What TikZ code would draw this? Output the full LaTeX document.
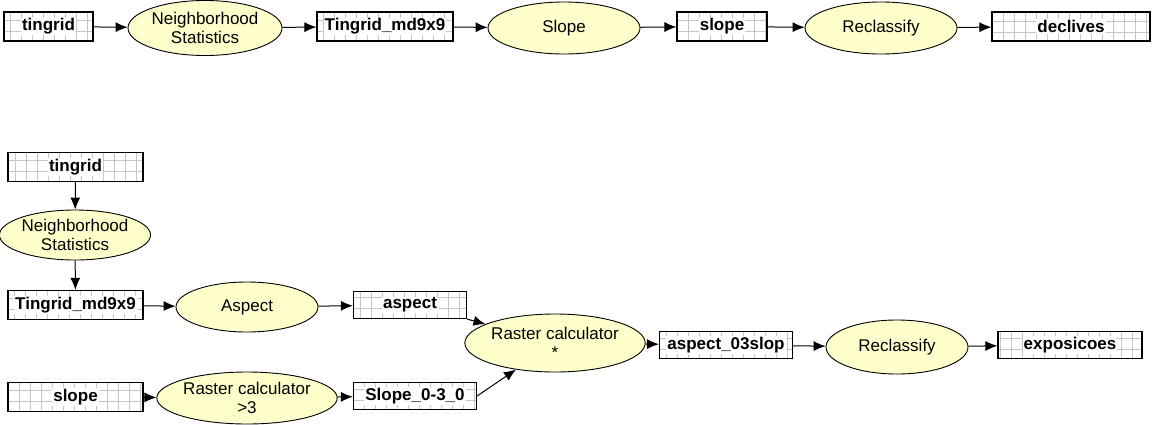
\documentclass[tikz,border=0pt]{standalone}
\usepackage{fontspec}
\setmainfont{Liberation Sans}
\usetikzlibrary{shapes.geometric,arrows.meta}
\definecolor{toolfill}{RGB}{255,255,204}
\newcommand{\lyr}[1]{{\setlength{\fboxsep}{1pt}\colorbox{white}{#1}}}

\begin{document}
\begin{tikzpicture}[x=1pt,y=1pt,
        tool/.style={ellipse,draw,line width=0.9pt,fill=toolfill,inner sep=0pt,align=center,
            font=\fontsize{17}{19}\selectfont},
        layer/.style={rectangle,draw,line width=1.2pt,inner sep=0pt,minimum height=29pt,
            font=\fontsize{17}{19}\selectfont\bfseries,
            path picture={\draw[gray!45,line width=0.6pt,step=11pt]
                (path picture bounding box.south west) grid (path picture bounding box.north east);}},
        flow/.style={-{Latex[length=12pt,width=10pt]},line width=1pt}]
    \useasboundingbox (0,0) rectangle (1161,-424);

    % Top row
    \node[layer,minimum width=89pt] (t0) at (48.5,-26.5) {\lyr{tingrid}};
    \node[tool,minimum width=154pt,minimum height=55pt] (n0) at (205,-28) {Neighborhood\\Statistics};
    \node[layer,minimum width=136pt] (m0) at (385,-26.5) {\lyr{Tingrid\_md9x9}};
    \node[tool,minimum width=152pt,minimum height=52pt] (s0) at (564,-28) {Slope};
    \node[layer,minimum width=90pt] (sl0) at (722,-26.5) {\lyr{slope}};
    \node[tool,minimum width=152pt,minimum height=52pt] (r0) at (881,-28) {Reclassify};
    \node[layer,minimum width=158pt] (d0) at (1071,-26.5) {\lyr{declives}};

    % Bottom: left column
    \node[layer,minimum width=135pt] (t1) at (75.5,-167) {\lyr{tingrid}};
    \node[tool,minimum width=142pt,minimum height=50pt] (n1) at (75,-235) {Neighborhood\\Statistics};
    \node[layer,minimum width=135pt] (m1) at (75.5,-305) {\lyr{Tingrid\_md9x9}};
    \node[layer,minimum width=135pt] (sl1) at (75.5,-397) {\lyr{slope}};

    % Bottom: aspect and slope branches
    \node[tool,minimum width=142pt,minimum height=50pt] (a1) at (247,-307) {Aspect};
    \node[layer,minimum width=113pt,minimum height=27pt] (as1) at (410,-305) {\lyr{aspect}};
    \node[tool,minimum width=140pt,minimum height=52pt] (rc1) at (247,-398) {Raster calculator\\>3};
    \node[layer,minimum width=123pt,minimum height=27pt] (so1) at (415,-396) {\lyr{Slope\_0-3\_0}};

    % Bottom: combination
    \node[tool,minimum width=140pt,minimum height=58pt] (rc2) at (555,-343) {Raster calculator\\*};
    \node[layer,minimum width=133pt,minimum height=27pt] (ao1) at (726,-345) {\lyr{aspect\_03slop}};
    \node[tool,minimum width=142pt,minimum height=54pt] (r1) at (897,-347) {Reclassify};
    \node[layer,minimum width=144pt,minimum height=27pt] (ex1) at (1070,-345) {\lyr{exposicoes}};

    % Edges
    \draw[flow] (t0) -- (n0);
    \draw[flow] (n0) -- (m0);
    \draw[flow] (m0) -- (s0);
    \draw[flow] (s0) -- (sl0);
    \draw[flow] (sl0) -- (r0);
    \draw[flow] (r0) -- (d0);

    \draw[flow] (t1) -- (n1);
    \draw[flow] (n1) -- (m1);
    \draw[flow] (m1) -- (a1);
    \draw[flow] (a1) -- (as1);
    \draw[flow] (sl1) -- (rc1);
    \draw[flow] (rc1) -- (so1);
    \draw[flow] (as1.south east) -- (rc2);
    \draw[flow] (so1.east) -- (rc2);
    \draw[flow] (rc2) -- (ao1);
    \draw[flow] (ao1) -- (r1);
    \draw[flow] (r1) -- (ex1);
\end{tikzpicture}
\end{document}
